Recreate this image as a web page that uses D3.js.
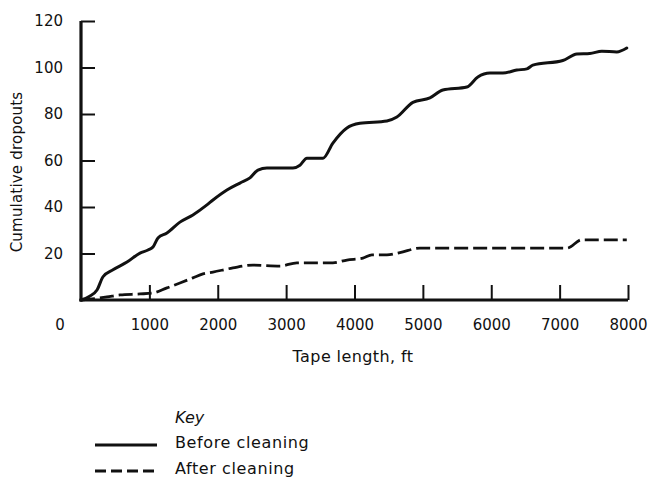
<!DOCTYPE html>
<html>
<head>
<meta charset="utf-8">
<script src="https://cdn.jsdelivr.net/npm/d3@7/dist/d3.min.js"></script>
<style>
  html, body { margin: 0; padding: 0; background: #fff; }
  svg { display: block; }
  text { font-family: "DejaVu Sans", "Liberation Sans", Arial, sans-serif; fill: #111; }
</style>
</head>
<body>
<svg id="chart" width="653" height="477"></svg>
<script>
// Cumulative dropouts vs. tape length (ft)
const beforeLength = [0, 120, 234, 322, 468, 673, 863, 980, 1053, 1126, 1257, 1447, 1637, 1842, 1930, 2134, 2325, 2471, 2588, 2719, 3100, 3202, 3304, 3540, 3684, 3889, 4079, 4474, 4620, 4854, 5103, 5292, 5643, 5804, 5980, 6170, 6374, 6521, 6608, 7047, 7252, 7442, 7617, 7836, 7982];
const beforeDropouts = [0, 1.5, 4.3, 10, 13, 16.3, 20.2, 21.5, 22.8, 26.7, 28.8, 33.5, 36.6, 40.9, 43, 47.3, 50.3, 52.5, 55.9, 56.8, 56.8, 58, 61, 61, 67.5, 74, 76, 77, 78.7, 85, 86.9, 90.3, 91.6, 95.9, 97.6, 97.6, 98.9, 99.4, 101, 103, 105.8, 106, 107, 106.7, 108.4];

const afterLength = [0, 380, 570, 863, 1053, 1257, 1447, 1637, 1784, 1930, 2222, 2515, 2909, 3158, 3684, 3889, 4123, 4254, 4474, 4664, 4956, 7105, 7325, 7982];
const afterDropouts = [0, 1.3, 2.2, 2.6, 3.0, 5.2, 7.3, 9.5, 11.2, 12, 13.8, 15, 14.6, 16, 16, 17.2, 18, 19.4, 19.4, 20.4, 22.3, 22.3, 25.9, 25.9];

const xTicks = [1000, 2000, 3000, 4000, 5000, 6000, 7000, 8000];
const yTicks = [20, 40, 60, 80, 100, 120];
const originLabel = "0";

const seriesNames = ["Before cleaning", "After cleaning"];
const seriesDash = [null, "14,5"];
const keyDash = [null, "11,5"];

const svg = d3.select("#chart");
const margin = { left: 81, top: 21, right: 25, bottom: 177 };
const width = 653 - margin.left - margin.right;
const height = 477 - margin.top - margin.bottom;

const g = svg.append("g").attr("transform", `translate(${margin.left},${margin.top})`);

const x = d3.scaleLinear().domain([0, 8000]).range([0, width]);
const y = d3.scaleLinear().domain([0, 120]).range([height, 0]);

// Axes with ticks pointing into the plot area
const xAxis = d3.axisBottom(x).tickValues(xTicks).tickSizeInner(-15).tickSizeOuter(0).tickPadding(19).tickFormat(d3.format("d"));
const yAxis = d3.axisLeft(y).tickValues(yTicks).tickSizeInner(-14).tickSizeOuter(0).tickPadding(18).tickFormat(d3.format("d"));

const gx = g.append("g").attr("transform", `translate(0,${height})`).call(xAxis);
const gy = g.append("g").call(yAxis);

[gx, gy].forEach(a => {
  a.select(".domain").attr("stroke", "#111").attr("stroke-width", 3.2);
  a.selectAll(".tick line").attr("stroke", "#111").attr("stroke-width", 2);
  a.selectAll(".tick text").style("font-family", "'DejaVu Sans', sans-serif").style("font-size", "15px").attr("fill", "#111");
});
// let the two axis lines meet cleanly at the corner
gx.select(".domain").attr("d", `M-1.5,0H${width}`);
gy.select(".domain").attr("d", `M0,${height + 1.5}V0`);

// Shared origin label
g.append("text")
  .attr("x", -21).attr("y", height + 25)
  .attr("text-anchor", "middle").attr("dy", "0.35em")
  .style("font-size", "15px")
  .text(originLabel);

// Axis titles
g.append("text")
  .attr("x", 353 - margin.left).attr("y", 356 - margin.top)
  .attr("text-anchor", "middle").attr("dy", "0.35em")
  .style("font-size", "16px").style("letter-spacing", "0.4px")
  .text("Tape length, ft");

g.append("text")
  .attr("transform", `translate(${17 - margin.left},${172 - margin.top}) rotate(-90)`)
  .attr("text-anchor", "middle").attr("dy", "0.35em")
  .style("font-size", "15px").style("letter-spacing", "0.2px")
  .text("Cumulative dropouts");

// Lines
const line = d3.line()
  .x(d => x(d[0]))
  .y(d => y(d[1]))
  .curve(d3.curveMonotoneX);

const beforeData = beforeLength.map((v, i) => [v, beforeDropouts[i]]);
const afterData = afterLength.map((v, i) => [v, afterDropouts[i]]);

g.append("path")
  .datum(beforeData)
  .attr("fill", "none").attr("stroke", "#111").attr("stroke-width", 3)
  .attr("stroke-linejoin", "round").attr("stroke-linecap", "round")
  .attr("d", line);

g.append("path")
  .datum(afterData)
  .attr("fill", "none").attr("stroke", "#111").attr("stroke-width", 2.8)
  .attr("stroke-dasharray", seriesDash[1])
  .attr("d", line);

// Key
const key = svg.append("g");
key.append("text")
  .attr("x", 175).attr("y", 417).attr("dy", "0.35em")
  .style("font-size", "16px").style("font-style", "italic")
  .text("Key");

seriesNames.forEach((name, i) => {
  const ty = 442 + i * 26;
  key.append("line")
    .attr("x1", 95).attr("x2", 157).attr("y1", ty + 3).attr("y2", ty + 3)
    .attr("stroke", "#111").attr("stroke-width", 3)
    .attr("stroke-dasharray", keyDash[i]);
  key.append("text")
    .attr("x", 175).attr("y", ty).attr("dy", "0.35em")
    .style("font-size", "16px").style("letter-spacing", "0.6px")
    .text(name);
});
</script>
</body>
</html>
